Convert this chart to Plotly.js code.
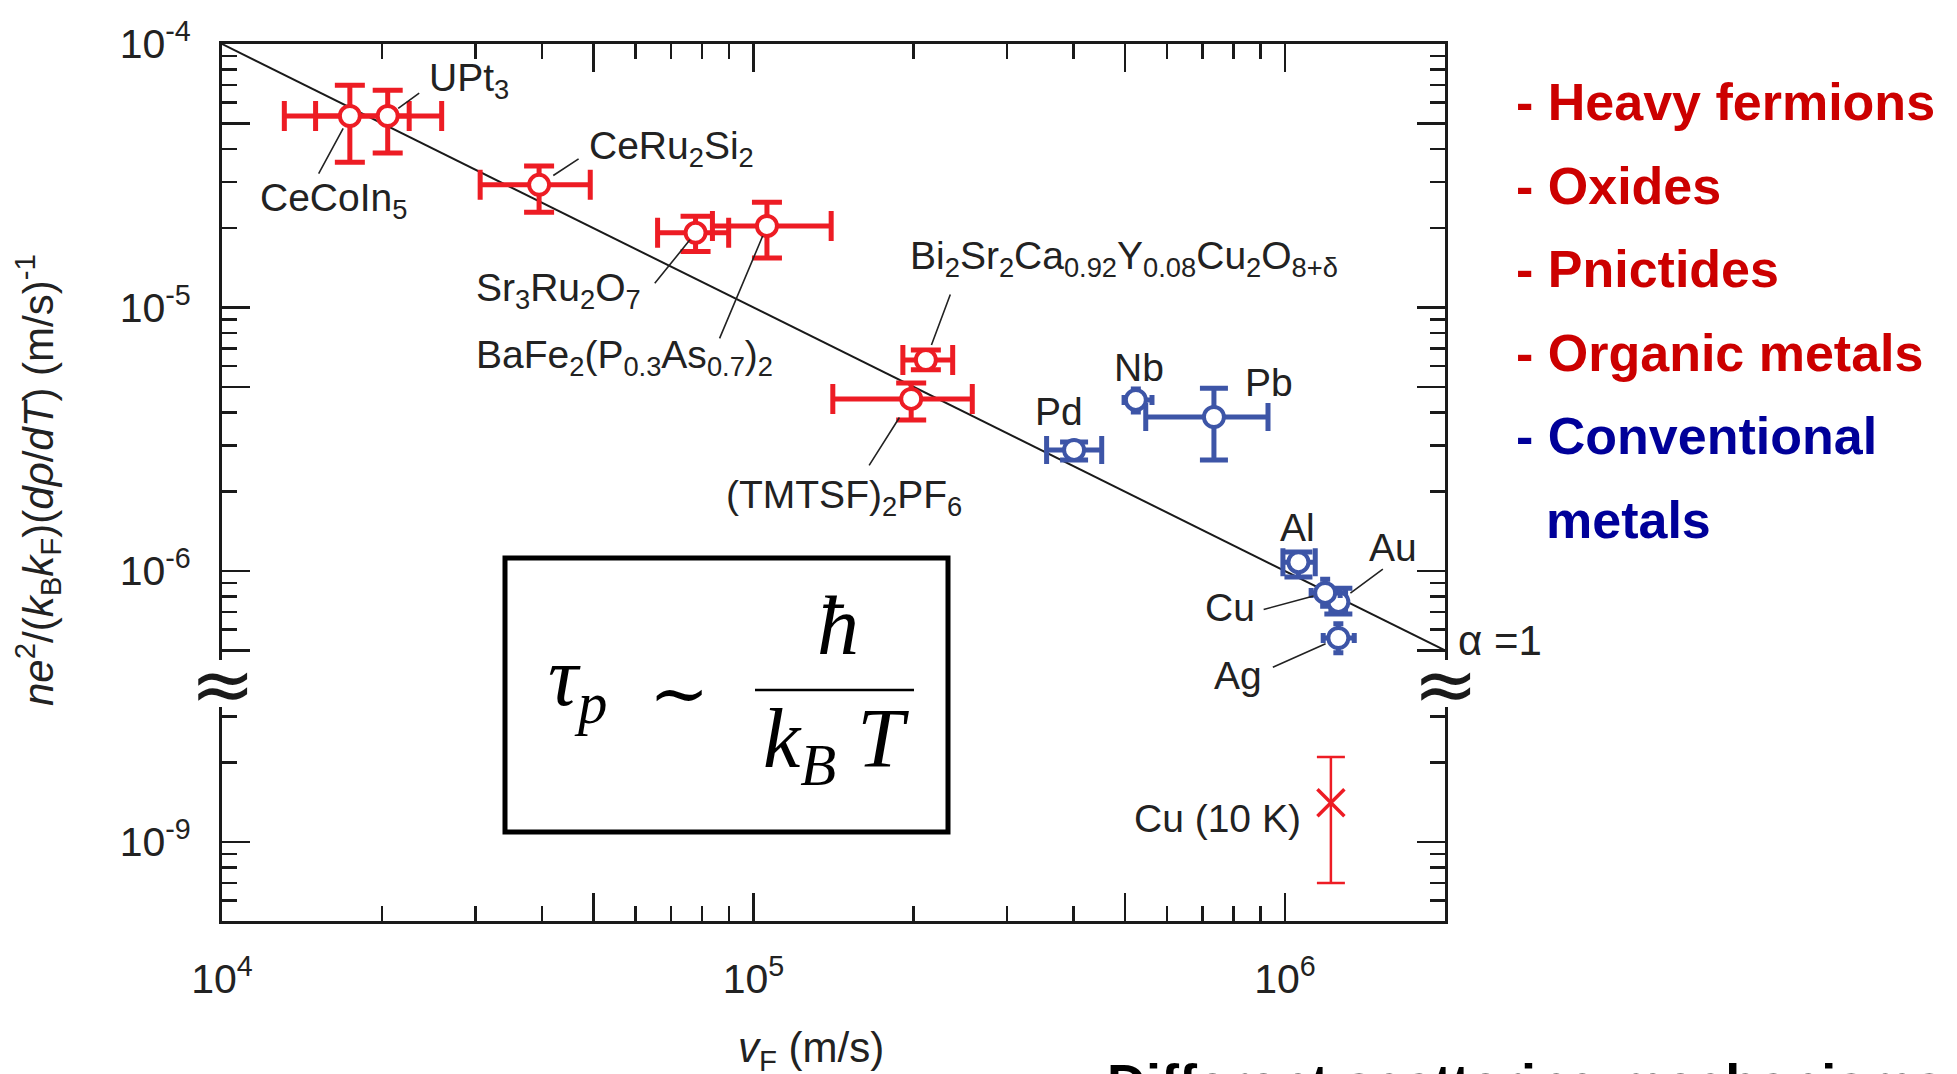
<!DOCTYPE html>
<html><head><meta charset="utf-8">
<script src="https://cdn.plot.ly/plotly-3.0.1.min.js"></script>
<style>html,body{margin:0;padding:0;background:#fff;}#chart{width:1957px;height:1074px;}</style>
</head><body><div id="chart"></div>
<script>
// ---------------- data ----------------
// correlated metals (red): v_F in m/s, A = ne^2/(kB kF)(drho/dT) in (m/s)^-1
const redNames = ["CeCoIn<sub>5</sub>", "UPt<sub>3</sub>", "CeRu<sub>2</sub>Si<sub>2</sub>",
  "Sr<sub>3</sub>Ru<sub>2</sub>O<sub>7</sub>", "BaFe<sub>2</sub>(P<sub>0.3</sub>As<sub>0.7</sub>)<sub>2</sub>",
  "Bi<sub>2</sub>Sr<sub>2</sub>Ca<sub>0.92</sub>Y<sub>0.08</sub>Cu<sub>2</sub>O<sub>8+δ</sub>",
  "(TMTSF)<sub>2</sub>PF<sub>6</sub>"];
const redVF   = [1.74e4, 2.05e4, 3.95e4, 7.78e4, 1.06e5, 2.11e5, 1.98e5];
const redVFlo = [1.31e4, 1.50e4, 3.06e4, 6.60e4, 8.37e4, 1.91e5, 1.41e5];
const redVFhi = [2.25e4, 2.59e4, 4.93e4, 8.98e4, 1.40e5, 2.37e5, 2.58e5];
const redA    = [5.33e-5, 5.33e-5, 2.92e-5, 1.92e-5, 2.04e-5, 6.32e-6, 4.50e-6];
const redAlo  = [3.56e-5, 3.86e-5, 2.30e-5, 1.63e-5, 1.54e-5, 5.80e-6, 3.74e-6];
const redAhi  = [6.98e-5, 6.68e-5, 3.44e-5, 2.22e-5, 2.51e-5, 6.90e-6, 5.17e-6];

// conventional metals (blue)
const blueNames = ["Pd", "Nb", "Pb", "Al", "Cu", "Au", "Ag"];
const blueVF   = [4.01e5, 5.24e5, 7.35e5, 1.06e6, 1.19e6, 1.26e6, 1.26e6];
const blueVFlo = [3.56e5, 4.98e5, 5.47e5, 9.91e5, 1.12e6, 1.22e6, 1.18e6];
const blueVFhi = [4.52e5, 5.62e5, 9.29e5, 1.14e6, 1.27e6, 1.30e6, 1.35e6];
const blueA    = [2.88e-6, 4.46e-6, 3.84e-6, 1.08e-6, 8.26e-7, 7.63e-7, 5.57e-7];
const blueAlo  = [2.64e-6, 4.01e-6, 2.64e-6, 9.49e-7, 7.35e-7, 6.87e-7, 4.90e-7];
const blueAhi  = [3.09e-6, 4.91e-6, 4.94e-6, 1.18e-6, 9.30e-7, 8.61e-7, 6.30e-7];

// Cu at 10 K (lower panel)
const cu10Name = "Cu (10 K)";
const cu10VF = [1.22e6];
const cu10A  = [1.41e-9];
const cu10Alo = [6.99e-10];
const cu10Ahi = [2.10e-9];

// alpha = 1 line
const lineVF = [1e4, 2e6];
const lineA  = [1e-4, 5e-7];

// legend-like category text
const catText  = ["- Heavy fermions", "- Oxides", "- Pnictides", "- Organic metals", "- Conventional", "metals"];
const catGroup = ["red", "red", "red", "red", "blue", "blue"];

// ---------------- geometry / style ----------------
const L = 222, R = 1445, T = 44, B = 921;
const PX_DEC_Y = 263.5;
const upperBottomPx = 660, lowerTopPx = 707;
function P(x, y) { return {x: (x - L) / (R - L), y: (B - y) / (B - T)}; }

const FONT = "Liberation Sans, Arial, sans-serif";
const SERIF = "Liberation Serif, DejaVu Serif, serif";
const INK = "#1a1a1a";
const RED = "#ED1C24", BLUE = "#3D55A7";
const CAT_COL = {red: "#CC0000", blue: "#000099"};

const xRange = [4, Math.log10(2e6)];
const yUpRange = [-4 - (upperBottomPx - T) / PX_DEC_Y, -4];
const yLoRange = [-9 - (B - 842) / PX_DEC_Y, -9 - (B - 842) / PX_DEC_Y + (B - lowerTopPx) / PX_DEC_Y];

function logTicks(lo, hi) {
  const major = [], text = [], minor = [];
  for (let e = Math.floor(lo) - 1; e <= Math.ceil(hi); e++) {
    for (let d = 1; d <= 9; d++) {
      const v = d * Math.pow(10, e), lv = Math.log10(v);
      if (lv < lo - 1e-6 || lv > hi + 1e-6) continue;
      if (d === 1) { major.push(v); text.push("10<sup>" + e + "</sup>"); }
      else if (d === 5) { major.push(v); text.push(""); }
      else minor.push(v);
    }
  }
  return {major, text, minor};
}

function axis(range, ticks, extra) {
  return Object.assign({
    type: "log", range: range, autorange: false, showgrid: false, zeroline: false,
    showline: true, linecolor: INK, linewidth: 3,
    ticks: "inside", ticklen: 28, tickwidth: 2.5, tickcolor: INK,
    tickmode: "array", tickvals: ticks.major, ticktext: ticks.text,
    tickfont: {family: FONT, size: 41, color: "#222"},
    minor: {ticks: "inside", ticklen: 15, tickwidth: 2.5, tickcolor: INK, tickmode: "array", tickvals: ticks.minor},
    automargin: false, fixedrange: true
  }, extra);
}

const xt = logTicks(xRange[0], xRange[1]);
const yut = logTicks(yUpRange[0], yUpRange[1]);
const ylt = logTicks(yLoRange[0], yLoRange[1]);

const layout = {
  width: 1957, height: 1074,
  margin: {l: L, r: 1957 - R, t: T, b: 1074 - B},
  paper_bgcolor: "#fff", plot_bgcolor: "rgba(0,0,0,0)",
  showlegend: false,
  xaxis: axis(xRange, xt, {anchor: "y2", side: "bottom", ticklabelstandoff: 20}),
  xaxis2: axis(xRange, {major: xt.major, text: xt.text.map(() => ""), minor: xt.minor},
               {anchor: "y", side: "top", showticklabels: false}),
  yaxis: axis(yUpRange, yut, {anchor: "x2", domain: [(B - upperBottomPx) / (B - T), 1], mirror: "ticks", ticklabelstandoff: 20}),
  yaxis2: axis(yLoRange, ylt, {anchor: "x", domain: [0, (B - lowerTopPx) / (B - T)], mirror: "ticks", ticklabelstandoff: 20}),
  shapes: [], annotations: []
};

// ---------------- traces ----------------
function errs(v, lo, hi) {
  return {plus: hi.map((h, i) => h - v[i]), minus: lo.map((l, i) => v[i] - l)};
}
function pick(arr, idx) { return idx.map(i => arr[i]); }

const traces = [];
traces.push({x: lineVF, y: lineA, xaxis: "x2", yaxis: "y", mode: "lines",
  line: {color: INK, width: 2}, hoverinfo: "skip", cliponaxis: false});

function ptTrace(vf, vflo, vfhi, a, alo, ahi, color, capw, names) {
  const ex = errs(vf, vflo, vfhi), ey = errs(a, alo, ahi);
  return {x: vf, y: a, text: names, xaxis: "x2", yaxis: "y", mode: "markers", type: "scatter",
    marker: {symbol: "circle", size: 20, color: "#fff", line: {color: color, width: 4}},
    error_x: {type: "data", symmetric: false, array: ex.plus, arrayminus: ex.minus, color: color, thickness: 5, width: capw},
    error_y: {type: "data", symmetric: false, array: ey.plus, arrayminus: ey.minus, color: color, thickness: 5, width: capw},
    cliponaxis: false};
}
traces.push(ptTrace(redVF, redVFlo, redVFhi, redA, redAlo, redAhi, RED, 15, redNames));
const bigCap = [0, 2, 3, 5], smallCap = [1, 4, 6];
traces.push(ptTrace(pick(blueVF, bigCap), pick(blueVFlo, bigCap), pick(blueVFhi, bigCap),
  pick(blueA, bigCap), pick(blueAlo, bigCap), pick(blueAhi, bigCap), BLUE, 14, pick(blueNames, bigCap)));
traces.push(ptTrace(pick(blueVF, smallCap), pick(blueVFlo, smallCap), pick(blueVFhi, smallCap),
  pick(blueA, smallCap), pick(blueAlo, smallCap), pick(blueAhi, smallCap), BLUE, 5, pick(blueNames, smallCap)));
{
  const ey = errs(cu10A, cu10Alo, cu10Ahi);
  traces.push({x: cu10VF, y: cu10A, xaxis: "x", yaxis: "y2", mode: "markers",
    marker: {symbol: "x-thin", size: 27, color: RED, line: {color: RED, width: 3.5}},
    error_y: {type: "data", symmetric: false, array: ey.plus, arrayminus: ey.minus, color: RED, thickness: 2.5, width: 14}});
}

// ---------------- labels ----------------
const LFS = 39;
function label(text, xLeft, baseline, anchor, size) {
  const fs = size || LFS;
  const p = P(xLeft, baseline - 0.36 * fs);
  layout.annotations.push({xref: "paper", yref: "paper", x: p.x, y: p.y, text: text, showarrow: false,
    xanchor: anchor || "left", yanchor: "middle", font: {family: FONT, size: fs, color: "#222"}});
}
// positions of point labels (left x, baseline y in px)
const redLabelPos = [[258, 215], [427, 95], [587, 163], [474, 305], [474, 372], [908, 273], [724, 512]];
const blueLabelPos = [[1033, 426], [1112, 382], [1243, 397], [1278, 542], [1203, 622], [1367, 562], [1212, 690]];
redNames.forEach((n, i) => label(n, redLabelPos[i][0], redLabelPos[i][1]));
blueNames.forEach((n, i) => label(n, blueLabelPos[i][0], blueLabelPos[i][1]));
label(cu10Name, 1303, 833, "right");
label("α =1", 1456, 656, "left", 42);

// leader lines: [series, index, ax, ay, standoff]
const leaders = [
  ["r", 0, -32, 59, 14], ["r", 1, 33, -24, 13], ["r", 2, 41, -27, 17], ["r", 3, -42, 52, 9],
  ["r", 4, -48, 114, 11], ["r", 5, 25, -67, 16], ["r", 6, -43, 68, 22],
  ["b", 4, -63, 17, 12], ["b", 5, 46, -34, 15], ["b", 6, -67, 30, 14]
];
leaders.forEach(([s, i, ax, ay, so]) => {
  const vx = s === "r" ? redVF[i] : blueVF[i];
  const vy = s === "r" ? redA[i] : blueA[i];
  layout.annotations.push({xref: "x2", yref: "y", x: Math.log10(vx), y: Math.log10(vy), text: "",
    showarrow: true, arrowhead: 0, arrowwidth: 1.6, arrowcolor: "#222", ax: ax, ay: ay, standoff: so});
});

// axis break marks
[L, R].forEach(xx => {
  const p = P(xx, 684);
  layout.annotations.push({xref: "paper", yref: "paper", x: p.x, y: p.y, text: "≈", showarrow: false,
    xanchor: "center", yanchor: "middle", font: {family: "DejaVu Sans", size: 78, color: INK}});
});

// axis titles
{
  const p = P(37, 480);
  layout.annotations.push({xref: "paper", yref: "paper", x: p.x, y: p.y, textangle: -90, showarrow: false,
    xanchor: "center", yanchor: "middle", font: {family: FONT, size: 42, color: "#222"},
    text: "<i>ne</i><sup>2</sup>/(<i>k</i><sub>B</sub><i>k</i><sub>F</sub>)(<i>dρ</i>/<i>dT</i>) (m/s)<sup>-1</sup>"});
  const q = P(811, 1050);
  layout.annotations.push({xref: "paper", yref: "paper", x: q.x, y: q.y, showarrow: false,
    xanchor: "center", yanchor: "middle", font: {family: FONT, size: 42, color: "#222"},
    text: "<i>v</i><sub>F</sub> (m/s)"});
}

// formula box
{
  const a = P(505, 832), b = P(948, 558);
  layout.shapes.push({type: "rect", xref: "paper", yref: "paper", x0: a.x, y0: a.y, x1: b.x, y1: b.y,
    line: {color: "#000", width: 5}, fillcolor: "rgba(0,0,0,0)"});
  const f0 = P(755, 690), f1 = P(914, 690);
  layout.shapes.push({type: "line", xref: "paper", yref: "paper", x0: f0.x, y0: f0.y, x1: f1.x, y1: f1.y,
    line: {color: "#000", width: 2.5}});
  const EFS = 84;
  const add = (txt, x, y, xa, fs) => { const p = P(x, y); layout.annotations.push({xref: "paper", yref: "paper",
    x: p.x, y: p.y, text: txt, showarrow: false, xanchor: xa, yanchor: "middle",
    font: {family: SERIF, size: fs || EFS, color: "#000"}}); };
  add("<i>τ</i><sub><i>p</i></sub>", 546, 712 - 0.35 * EFS, "left");
  add("∼", 679, 694, "center", 72);
  add("<i>ħ</i>", 838, 655 - 0.35 * EFS, "center");
  add("<i>k</i><sub><i>B</i></sub> <i>T</i>", 836, 774 - 0.35 * EFS, "center");
}

// category text on the right
catText.forEach((t, i) => {
  const p = P(i === 5 ? 1544 : 1514, 102 + i * 83.6);
  layout.annotations.push({xref: "paper", yref: "paper", x: p.x, y: p.y, text: "<b>" + t + "</b>",
    showarrow: false, xanchor: "left", yanchor: "middle",
    font: {family: FONT, size: 52, color: CAT_COL[catGroup[i]]}});
});

// cut-off caption at the bottom
{
  const p = P(1105, 1083);
  layout.annotations.push({xref: "paper", yref: "paper", x: p.x, y: p.y, text: "<b>Different scattering mechanisms</b>",
    showarrow: false, xanchor: "left", yanchor: "middle", font: {family: FONT, size: 54, color: "#000"}});
}

Plotly.newPlot("chart", traces, layout, {displayModeBar: false, staticPlot: true});
</script>
</body></html>
